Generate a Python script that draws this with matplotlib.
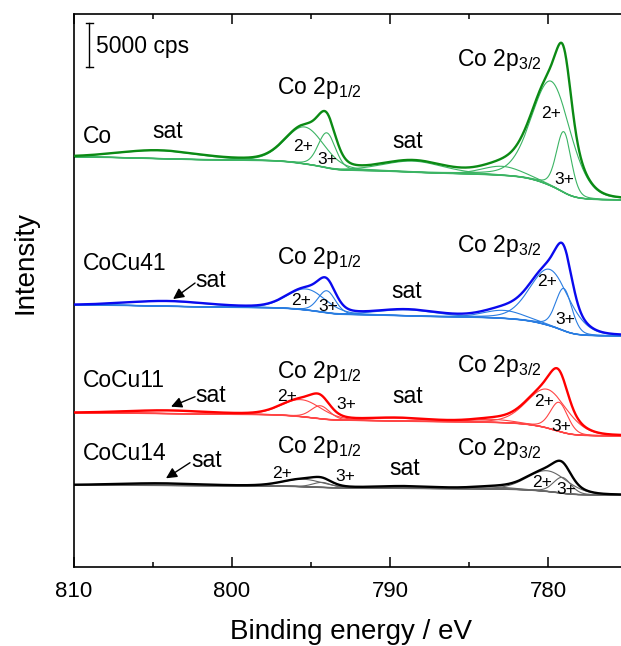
import numpy as np
import matplotlib
matplotlib.use("Agg")
import matplotlib.pyplot as plt
from matplotlib.ticker import MultipleLocator

plt.rcParams["font.family"] = ["Liberation Sans", "DejaVu Sans"]
plt.rcParams["mathtext.fontset"] = "custom"
plt.rcParams["mathtext.rm"] = "Liberation Sans"

# =============================================================================
# DATA  (intensity in kcps, binding energy in eV)
# peak order: sat ~805, 2+ 2p1/2, 3+ 2p1/2, sat ~789, sat ~783, 2+ 2p3/2, 3+ 2p3/2
# =============================================================================

samples = ["Co", "CoCu41", "CoCu11", "CoCu14"]

peak_pos = [
    [804.6, 795.4, 794.0, 788.5, 782.9, 779.80, 779.0],
    [804.0, 795.3, 794.0, 788.9, 782.8, 779.90, 779.0],
    [804.0, 795.6, 794.4, 789.5, 783.5, 780.05, 779.3],
    [804.5, 795.5, 794.3, 789.0, 783.5, 780.05, 779.1],
]
peak_height = [
    [0.91, 4.20, 3.98, 1.25, 1.02, 11.9, 6.9],
    [0.57, 2.39, 2.50, 0.68, 0.91, 6.40, 4.8],
    [0.34, 1.93, 1.48, 0.34, 0.34, 4.40, 3.3],
    [0.23, 0.85, 0.57, 0.23, 0.23, 2.35, 1.8],
]
peak_fwhm = [
    [6.0, 2.9, 1.3, 4.5, 3.0, 2.9, 1.1],
    [6.0, 2.9, 1.3, 4.5, 3.0, 2.9, 1.2],
    [6.0, 3.0, 1.4, 4.5, 3.0, 3.0, 1.3],
    [6.0, 3.0, 1.4, 4.5, 3.0, 3.0, 1.3],
]
# background level at high / low binding energy side
bg_high = [46.59, 29.77, 17.53, 9.32]
bg_low = [41.70, 26.25, 14.89, 8.18]

# =============================================================================
# STYLE / LAYOUT
# =============================================================================

ENV_COLORS = ["#0b8a14", "#0a0aee", "#ff0000", "#000000"]
COMP_COLORS = ["#3cb464", "#2a7de1", "#ff4545", "#666666"]

name_y = [48.15, 33.75, 20.49, 12.16]
p12_y = [53.75, 34.43, 21.48, 12.95]
p32_y = [56.93, 35.80, 22.16, 12.73]
sat_left = [(804.05, 48.78), (801.33, 31.78), (801.33, 18.79), (801.58, 11.40)]
sat_mid = [(788.86, 47.58), (788.92, 30.53), (788.86, 18.60), (789.05, 10.45)]
arrows = [None,
          ((802.34, 32.27), (803.73, 30.45)),
          ((802.34, 19.35), (803.86, 18.22)),
          ((802.66, 11.85), (804.18, 10.08))]
ox_labels = [
    [("2+", 795.51, 47.84), ("3+", 793.96, 46.36), ("2+", 779.81, 51.48), ("3+", 778.94, 43.98)],
    [("2+", 795.60, 30.34), ("3+", 793.92, 29.55), ("2+", 780.03, 32.39), ("3+", 778.92, 28.07)],
    [("2+", 796.49, 19.38), ("3+", 792.78, 18.52), ("2+", 780.28, 18.75), ("3+", 779.15, 16.02)],
    [("2+", 796.84, 10.57), ("3+", 792.85, 10.34), ("2+", 780.35, 9.55), ("3+", 778.83, 8.86)],
]


def pseudo_voigt(e, c, h, w, eta=0.2):
    x = (e - c) / w
    return h * ((1 - eta) * np.exp(-4 * np.log(2) * x ** 2) + eta / (1 + 4 * x ** 2))


energy = np.linspace(774.5, 811.0, 2000)

fig = plt.figure(figsize=(6.21, 6.46), dpi=100)
ax = fig.add_axes([0.1192, 0.1223, 0.8808, 0.856])

for i, name in enumerate(samples):
    comps = [pseudo_voigt(energy, c, h, w)
             for c, h, w in zip(peak_pos[i], peak_height[i], peak_fwhm[i])]
    total = np.sum(comps, axis=0)
    # Shirley-type background
    cum = np.concatenate([[0], np.cumsum((total[1:] + total[:-1]) / 2 * np.diff(energy))])
    bg = bg_low[i] + (bg_high[i] - bg_low[i]) * cum / cum[-1]

    ax.plot(energy, bg, color=COMP_COLORS[i], lw=1.1, zorder=2)
    for comp in comps:
        ax.plot(energy, bg + comp, color=COMP_COLORS[i], lw=0.8, zorder=2)
    ax.plot(energy, bg + total, color=ENV_COLORS[i], lw=1.7, zorder=3)

    ax.text(809.43, name_y[i], name, fontsize=16.5, ha="left", va="baseline")
    ax.text(797.17, p12_y[i], r"Co 2p$_{\mathregular{1/2}}$", fontsize=16.5,
            ha="left", va="baseline")
    ax.text(785.78, p32_y[i], r"Co 2p$_{\mathregular{3/2}}$", fontsize=16.5,
            ha="left", va="baseline")
    ax.text(*sat_left[i], "sat", fontsize=16.5, ha="center", va="baseline")
    ax.text(*sat_mid[i], "sat", fontsize=16.5, ha="center", va="baseline")
    for lab, ex, ey in ox_labels[i]:
        ax.text(ex, ey, lab, fontsize=12.5, ha="center", va="center")
    if arrows[i] is not None:
        tail, head = arrows[i]
        ax.annotate("", xy=head, xytext=tail,
                    arrowprops=dict(arrowstyle="-|>", color="k", lw=1.0,
                                    mutation_scale=16, shrinkA=0, shrinkB=0))

# scale bar
ax.plot([809.05, 809.05], [56.82, 61.82], color="k", lw=1.0)
ax.plot([808.83, 809.27], [61.82, 61.82], color="k", lw=1.0)
ax.plot([808.83, 809.27], [56.82, 56.82], color="k", lw=1.0)
ax.text(808.61, 58.36, "5000 cps", fontsize=16.5, ha="left", va="baseline")

ax.set_xlim(810, 775.38)
ax.set_ylim(0, 62.84)
ax.xaxis.set_major_locator(MultipleLocator(10))
ax.xaxis.set_minor_locator(MultipleLocator(5))
ax.set_yticks([])
ax.tick_params(axis="x", which="major", direction="in", length=7, width=1.1,
               top=True, labelsize=16, pad=10)
ax.tick_params(axis="x", which="minor", direction="in", length=3.5, width=1.1, top=True)
for side in ["left", "bottom", "top"]:
    ax.spines[side].set_linewidth(1.2)
ax.spines["right"].set_visible(False)

ax.set_xlabel("Binding energy / eV", fontsize=20)
ax.xaxis.set_label_coords(0.5055, -0.1175)
ax.xaxis.label.set_va("center")
ax.set_ylabel("Intensity", fontsize=20)
ax.yaxis.set_label_coords(-0.0896, 0.5506)
ax.yaxis.label.set_va("center")

fig.savefig("out.png", dpi=100)
